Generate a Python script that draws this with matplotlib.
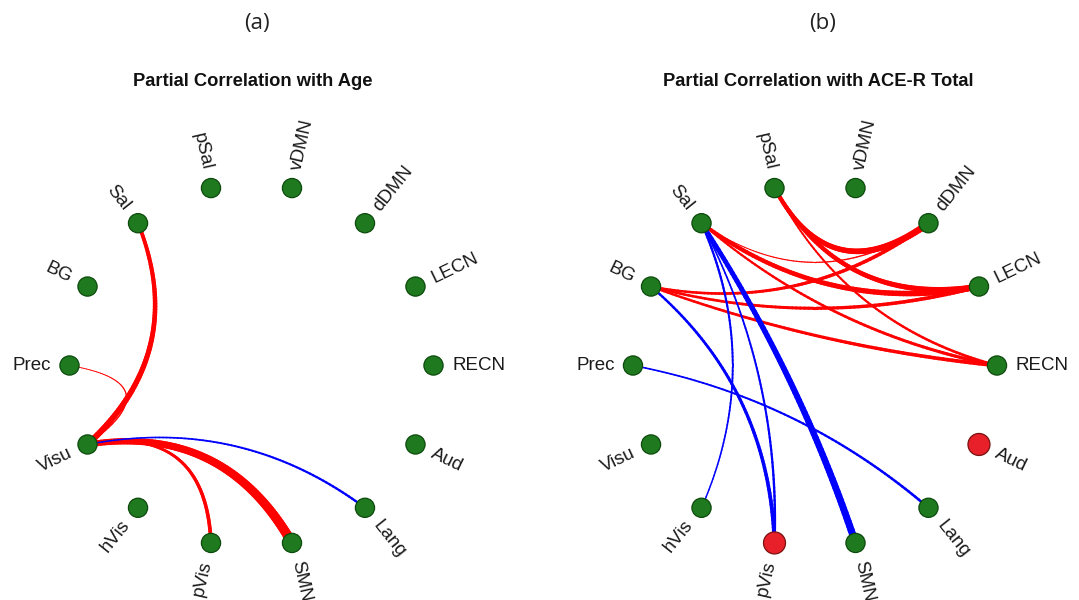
import numpy as np
import matplotlib
matplotlib.use("Agg")
import matplotlib.pyplot as plt
from matplotlib.collections import LineCollection
from matplotlib.patches import Circle

# ---------------- data ----------------
nodes = ['pSal', 'vDMN', 'dDMN', 'LECN', 'RECN', 'Aud', 'Lang',
         'SMN', 'pVis', 'hVis', 'Visu', 'Prec', 'BG', 'Sal']

panel_letters = ['(a)', '(b)']
panel_titles = ['Partial Correlation with Age', 'Partial Correlation with ACE-R Total']

# panel (a) edges: source (thin end), target (thick end), strength, sign (+1 red / -1 blue)
a_src = ['Sal', 'Prec', 'Visu', 'Visu', 'Visu']
a_dst = ['Visu', 'Visu', 'pVis', 'SMN', 'Lang']
a_strength = [4.4, 1.0, 2.7, 7.0, 1.7]
a_sign = [1, 1, 1, 1, -1]
a_red_nodes = []

# panel (b) edges
b_src = ['pSal', 'pSal', 'pSal', 'Sal', 'Sal', 'Sal', 'BG', 'BG', 'BG',
         'Sal', 'Sal', 'hVis', 'BG', 'Prec']
b_dst = ['dDMN', 'LECN', 'RECN', 'dDMN', 'LECN', 'RECN', 'dDMN', 'LECN', 'RECN',
         'SMN', 'pVis', 'Sal', 'pVis', 'Lang']
b_strength = [4.8, 4.2, 2.0, 1.1, 4.4, 2.4, 2.8, 2.8, 2.8,
              5.2, 1.8, 1.7, 2.8, 1.9]
b_sign = [1, 1, 1, 1, 1, 1, 1, 1, 1,
          -1, -1, -1, -1, -1]
b_red_nodes = ['pVis', 'Aud']

# ---------------- layout / style ----------------
W, H = 1079, 600
fig = plt.figure(figsize=(W / 100, H / 100), dpi=100)
ax = fig.add_axes([0, 0, 1, 1])
ax.set_xlim(0, W)
ax.set_ylim(H, 0)
ax.axis('off')

centers = [(251.5, 365.5), (815.0, 365.5)]
letter_x = [257, 823]
title_dx = [1, 3]
R = 182.0
K = 0.55
TAPER = 0.6
node_green = '#1f7a1f'
node_edge = '#0d4a0d'
node_red = '#e8202a'
pos_col = '#ff0000'
neg_col = '#0000ff'
label_font = ['Liberation Sans', 'DejaVu Sans']

n = len(nodes)
step = 360.0 / n
angles = {nm: 90 + step / 2 - i * step for i, nm in enumerate(nodes)}


def node_xy(c, nm):
    a = np.deg2rad(angles[nm])
    return c[0] + R * np.cos(a), c[1] - R * np.sin(a)


def draw_panel(c, src, dst, strength, sign, red_nodes, letter, lx_letter, title, tdx):
    t = np.linspace(0, 1, 80)[:, None]
    for s, d, w, sg in zip(src, dst, strength, sign):
        p0 = np.array(node_xy(c, s))
        p2 = np.array(node_xy(c, d))
        mid = (p0 + p2) / 2
        ctrl = mid + K * (np.array(c) - mid)
        pts = (1 - t) ** 2 * p0 + 2 * t * (1 - t) * ctrl + t ** 2 * p2
        segs = np.stack([pts[:-1], pts[1:]], axis=1)
        tm = (t[:-1, 0] + t[1:, 0]) / 2
        widths = w * (TAPER + (1 - TAPER) * tm)
        lc = LineCollection(segs, linewidths=widths,
                            colors=pos_col if sg > 0 else neg_col,
                            capstyle='round', joinstyle='round', zorder=2)
        ax.add_collection(lc)
    for nm in nodes:
        x, y = node_xy(c, nm)
        red = nm in red_nodes
        ax.add_patch(Circle((x, y), 11.0 if red else 9.6,
                            facecolor=node_red if red else node_green,
                            edgecolor=node_edge if not red else '#7a1010',
                            lw=0.9, zorder=3))
        a = angles[nm] % 360
        off = 18.5
        ar = np.deg2rad(a)
        lx = x + off * np.cos(ar)
        ly = y - off * np.sin(ar)
        if 90 < a < 270:
            rot = a - 180
            ha = 'right'
        else:
            rot = a if a <= 90 else a - 360
            ha = 'left'
        ax.text(lx, ly, nm, rotation=rot, rotation_mode='anchor',
                ha=ha, va='center', fontsize=13.5, family=label_font,
                color='#1a1a1a', zorder=4)
    ax.text(lx_letter, 24, letter, ha='center', va='center', fontsize=16,
            family=['Open Sans', 'DejaVu Sans'], color='#222222')
    ax.text(c[0] + tdx, 82, title, ha='center', va='center', fontsize=13.2,
            fontweight='bold', family=['Liberation Sans', 'DejaVu Sans'],
            color='#111111')


draw_panel(centers[0], a_src, a_dst, a_strength, a_sign, a_red_nodes,
           panel_letters[0], letter_x[0], panel_titles[0], title_dx[0])
draw_panel(centers[1], b_src, b_dst, b_strength, b_sign, b_red_nodes,
           panel_letters[1], letter_x[1], panel_titles[1], title_dx[1])

fig.savefig('out.png', dpi=100, facecolor='white')
